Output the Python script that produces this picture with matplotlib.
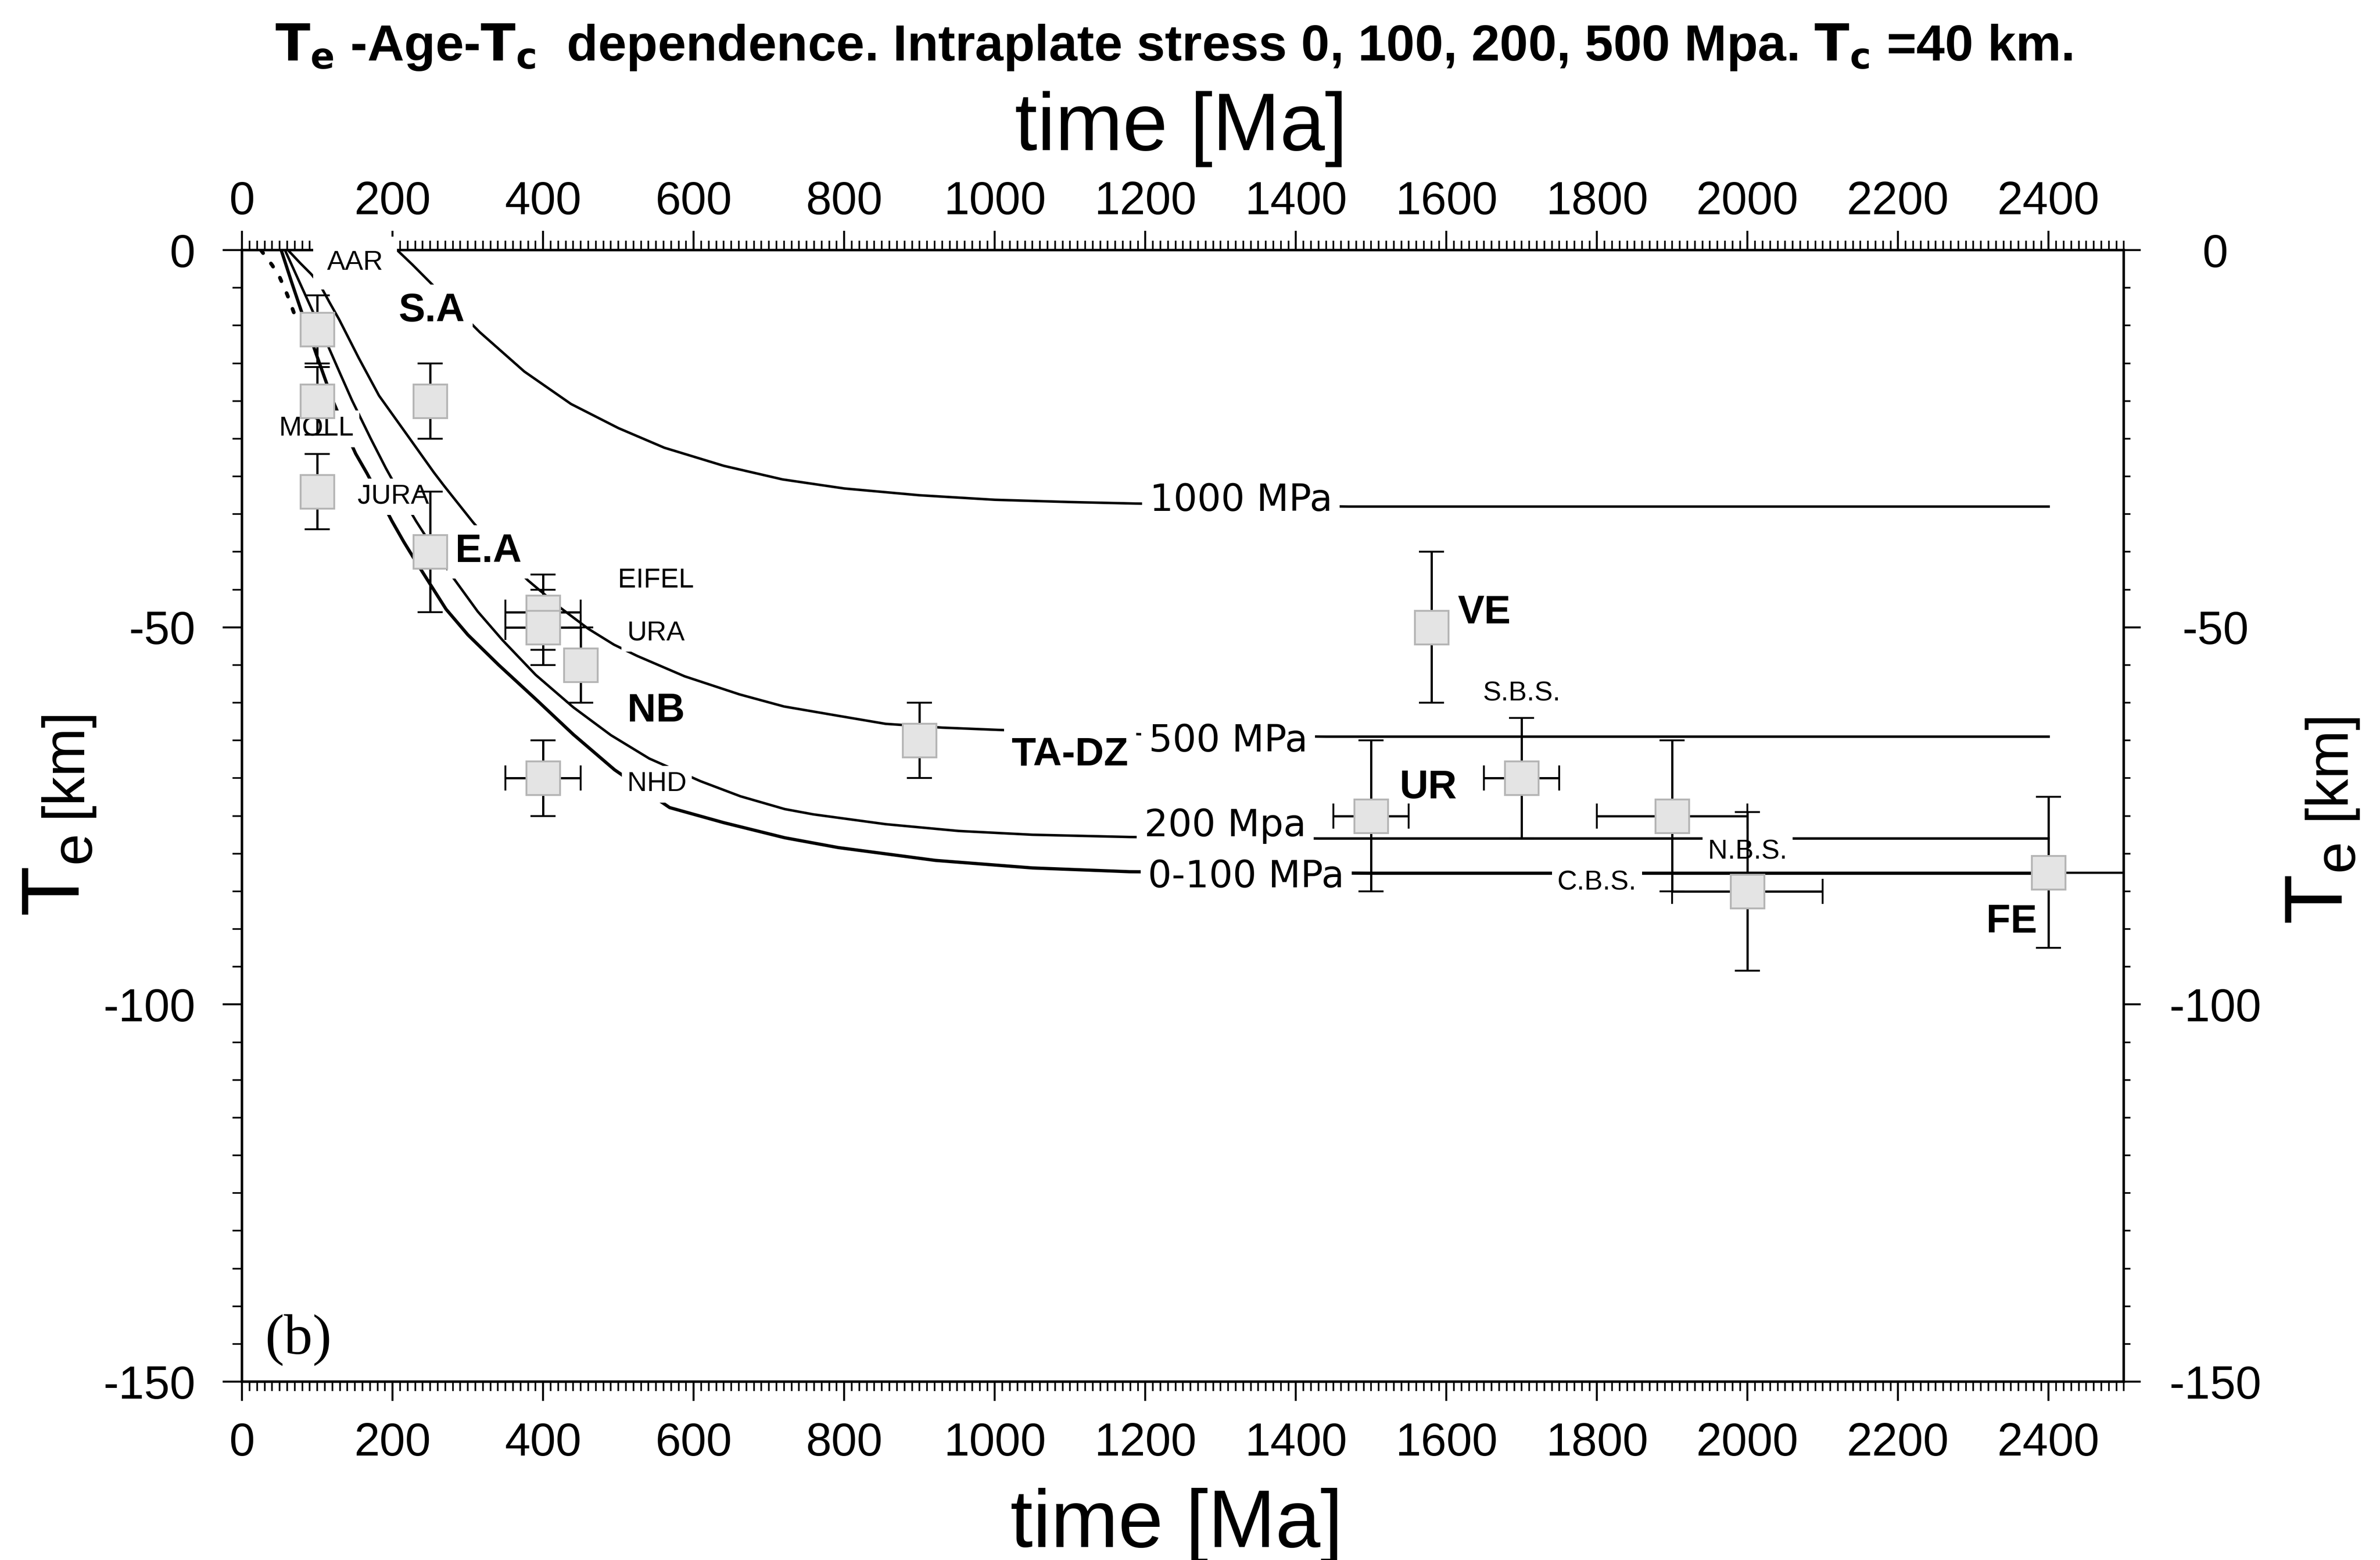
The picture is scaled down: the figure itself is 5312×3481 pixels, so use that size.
import matplotlib
matplotlib.use("Agg")
import matplotlib.pyplot as plt
from matplotlib.ticker import MultipleLocator

plt.rcParams['font.family'] = ['Liberation Sans', 'DejaVu Sans']
plt.rcParams['axes.unicode_minus'] = False
plt.rcParams['mathtext.fontset'] = 'custom'
plt.rcParams['mathtext.rm'] = 'Liberation Sans'
plt.rcParams['mathtext.bf'] = 'Liberation Sans Narrow:bold'
plt.rcParams['mathtext.it'] = 'Liberation Sans:italic'

# ---- model curves: effective elastic thickness Te [km] vs. age [Ma] ----
age_1000 = [206, 226, 246, 280, 316, 375, 437, 500, 561, 640, 718, 800, 900,
            1000, 1100, 1187, 1470, 2400]
te_1000 = [0, -1.9, -3.9, -7.3, -10.9, -16.1, -20.4, -23.6, -26.2, -28.6, -30.4,
           -31.6, -32.5, -33.1, -33.4, -33.6, -34.0, -34.0]

age_500 = [61, 77, 92, 104, 116, 129, 155, 182, 220, 255, 268, 307, 340, 380,
           424, 460, 494, 525, 588, 661, 720, 790, 855, 930, 1004, 1100, 1200,
           1440, 2400]
te_500 = [0, -1.7, -3.2, -4.7, -6.9, -9.2, -14.3, -19.3, -24.6, -29.5, -31.2,
          -36.1, -39.9, -43.8, -47.5, -50.2, -52.3, -53.8, -56.5, -58.9, -60.5,
          -61.7, -62.8, -63.3, -63.6, -63.9, -64.2, -64.5, -64.5]

age_200 = [57, 77, 97, 112, 130, 146, 171, 191, 211, 231, 256, 281, 313, 346,
           390, 440, 490, 541, 609, 662, 721, 759, 855, 952, 1050, 1179, 1431, 2400]
te_200 = [0, -4.4, -8.8, -12.2, -16.3, -19.9, -25.0, -28.9, -32.5, -35.9, -39.8,
          -43.5, -47.9, -51.7, -56.3, -60.6, -64.3, -67.4, -70.4, -72.4, -74.1,
          -74.8, -76.1, -77.0, -77.5, -77.8, -78.0, -78.0]

age_0_100 = [52, 66, 81, 100, 120, 140, 151, 166, 183, 199, 215, 231, 250, 271,
             300, 341, 391, 440, 495, 568, 640, 721, 792, 921, 1050, 1179, 1500, 2400]
te_0_100 = [0, -4.3, -8.75, -14.2, -19.8, -24.6, -27.0, -29.6, -32.8, -35.9,
            -38.7, -41.3, -44.3, -47.6, -51.0, -55.0, -59.6, -64.2, -68.9, -73.9,
            -75.9, -77.9, -79.2, -80.9, -81.9, -82.4, -82.6, -82.6]

# early branch of the 0 MPa solution (dotted)
age_0 = [25, 40, 50, 60, 70]
te_0 = [0, -2.0, -3.6, -5.9, -8.6]

# ---- observed Te estimates ----
obs_age = [100, 100, 100, 250, 250, 400, 400, 450, 400, 900, 1580, 1500, 1700,
           1900, 2000, 2400]
obs_te = [-10.5, -20, -32, -20, -40, -48, -50, -55, -70, -65, -50, -75, -70,
          -75, -85, -82.5]
obs_te_err = [4.5, 4.5, 5, 5, 8, 5, 5, 5, 5, 5, 10, 10, 8, 10, 10.5, 10]
obs_age_err = [0, 0, 0, 0, 0, 50, 50, 0, 50, 0, 0, 50, 50, 100, 100, 0]
fe_age_err_right = 100

# ---- region labels ----
site_names = ['AAR', 'S.A', 'MOLL', 'JURA', 'E.A', 'EIFEL', 'URA', 'NB', 'NHD',
              'TA-DZ', 'VE', 'S.B.S.', 'UR', 'N.B.S.', 'C.B.S.', 'FE']
site_x = [150, 252, 99, 201, 327, 550, 550, 550, 551, 1100, 1650, 1700, 1576,
          2000, 1800, 2351]
site_y = [-1.7, -8.1, -23.7, -32.7, -40.0, -43.8, -50.8, -61.1, -70.8, -67.0,
          -48.1, -58.8, -71.3, -79.8, -83.9, -89.1]
site_bold = [False, True, False, False, True, False, False, True, False, True,
             True, False, True, False, False, True]

curve_names = ['1000 MPa', '500 MPa', '200 Mpa', '0-100 MPa']
curve_label_x = [1327, 1310, 1306, 1334]
curve_label_y = [-33.2, -65.1, -76.3, -83.1]

x_major = list(range(0, 2401, 200))
y_major = [0, -50, -100, -150]

fig = plt.figure(figsize=(26.56, 17.405), dpi=200)
ax = fig.add_axes([0.1017, 0.1143, 0.7907, 0.7254])
# helper axes carrying the bottom and right tick sets
axb = ax.twiny()
axr = ax.twinx()

ax.set_xlim(0, 2500)
ax.set_ylim(-150, 0)

# curves
ax.plot(age_1000, te_1000, color='black', lw=2.0, zorder=2)
ax.plot(age_500, te_500, color='black', lw=2.0, zorder=2)
ax.plot(age_200, te_200, color='black', lw=2.0, zorder=2)
ax.plot(age_0_100, te_0_100, color='black', lw=2.6, zorder=2)
ax.plot(age_0, te_0, color='black', lw=3.0, linestyle=(0, (1, 3.5)),
        dash_capstyle='round', zorder=2)

# labels knock out the curves behind them
for name, x, y, b in zip(site_names, site_x, site_y, site_bold):
    pad = 0.5 if name == 'AAR' else 0.2
    ax.text(x, y, name, ha='center', va='center',
            fontsize=32 if b else 22, fontweight='bold' if b else 'normal',
            bbox=dict(boxstyle='square,pad=%g' % pad, fc='white', ec='none'),
            zorder=3, clip_on=False)

for name, x, y in zip(curve_names, curve_label_x, curve_label_y):
    ax.text(x, y, name, ha='center', va='center', fontsize=30,
            family='DejaVu Sans',
            bbox=dict(boxstyle='square,pad=0.2', fc='white', ec='none'),
            zorder=3)

ax.text(75, -144.5, '(b)', ha='center', va='center', fontsize=46,
        family=['Liberation Serif', 'DejaVu Serif'])

# observations
ax.errorbar([2400], [-82.5], xerr=[[0], [fe_age_err_right]], fmt='none',
            ecolor='black', elinewidth=1.8, capsize=0, zorder=3.9)
ax.errorbar(obs_age, obs_te, yerr=obs_te_err, xerr=obs_age_err, fmt='s',
            ms=27, mfc='#e4e4e4', mec='#b5b5b5', mew=1.5, ecolor='black',
            elinewidth=1.8, capsize=10, capthick=1.8, zorder=4)

# main axes: frame, top and left ticks
for sp in ax.spines.values():
    sp.set_linewidth(2.0)
ax.set_xticks(x_major)
ax.xaxis.set_minor_locator(MultipleLocator(10))
ax.set_yticks(y_major)
ax.yaxis.set_minor_locator(MultipleLocator(5))
ax.xaxis.set_ticks_position('top')
ax.xaxis.set_label_position('top')
ax.yaxis.set_ticks_position('left')
ax.tick_params(axis='both', which='major', direction='out', length=15.5,
               width=1.6, labelsize=37)
ax.tick_params(axis='both', which='minor', direction='out', length=7.5,
               width=1.3)
ax.tick_params(axis='x', which='both', top=True, bottom=False, labeltop=True,
               labelbottom=False, pad=5.5)
ax.tick_params(axis='y', which='both', left=True, right=False, labelleft=True,
               labelright=False, pad=22)

# bottom x ticks
axb.set_xlim(0, 2500)
axb.set_xticks(x_major)
axb.xaxis.set_minor_locator(MultipleLocator(10))
axb.xaxis.set_ticks_position('bottom')
axb.tick_params(axis='x', which='major', direction='out', length=15.5,
                width=1.6, labelsize=37, pad=17, top=False, labeltop=False,
                bottom=True, labelbottom=True)
axb.tick_params(axis='x', which='minor', direction='out', length=7.5,
                width=1.3, top=False, bottom=True)
axb.yaxis.set_visible(False)
for sp in axb.spines.values():
    sp.set_visible(False)

# right y ticks
axr.set_ylim(-150, 0)
axr.set_yticks(y_major)
axr.yaxis.set_minor_locator(MultipleLocator(5))
axr.tick_params(axis='y', which='major', direction='out', length=13.5,
                width=1.6, labelsize=37, pad=60, left=False, right=True,
                labelleft=False, labelright=True)
axr.tick_params(axis='y', which='minor', direction='out', length=5.5,
                width=1.3, left=False, right=True)
for t in axr.get_yticklabels():
    t.set_horizontalalignment('center')
for sp in axr.spines.values():
    sp.set_visible(False)

# titles and axis labels
fig.text(0.4932, 0.9612,
         r'$\mathbf{T}_\mathbf{e}$ -Age-$\mathbf{T}_\mathbf{c}$  dependence. '
         r'Intraplate stress 0, 100, 200, 500 Mpa. $\mathbf{T}_\mathbf{c}$ =40 km.',
         ha='center', va='baseline', fontsize=41, fontweight='bold',
         family=['Liberation Sans Narrow', 'Liberation Sans', 'DejaVu Sans'])
fig.text(0.4962, 0.9038, 'time [Ma]', ha='center', va='baseline', fontsize=65)
fig.text(0.4943, 0.0083, 'time [Ma]', ha='center', va='baseline', fontsize=65)

for xt, xk, yt, yk in [(0.03332, 0.0339, 0.41253, 0.4760),
                       (0.98419, 0.98494, 0.40735, 0.4745)]:
    fig.text(xt, yt, r'$\mathrm{T}_\mathrm{e}$', fontsize=66, rotation=90,
             rotation_mode='anchor', ha='left', va='baseline')
    fig.text(xk, yk, '[km]', fontsize=47, rotation=90,
             rotation_mode='anchor', ha='left', va='baseline')

fig.savefig('out.png', dpi=200)
